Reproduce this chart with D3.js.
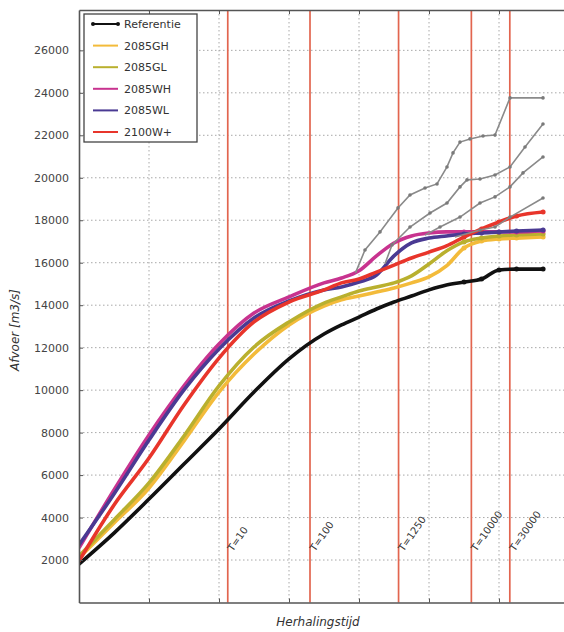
<!DOCTYPE html>
<html>
<head>
<meta charset="utf-8">
<script src="https://cdn.jsdelivr.net/npm/d3@7"></script>
<style>
    body{margin:0;background:#fff;}
    text{font-family:"DejaVu Sans",sans-serif;}
</style>
</head>
<body>
<svg id="chart" width="564" height="632"></svg>
<script>
// x = gumbel reduced variate of the return period
var uGrid = [-2,-1,0,1,2,3,4,5,5.5,6,6.5,7,7.5,8,8.5,9,9.5,10,10.5,11.26];

var referentie = [1810,3270,4870,6520,8170,9910,11470,12640,13070,13440,13820,14150,14430,14720,14950,15090,15230,15660,15700,15700];
var gh2085 = [2100,3740,5390,7610,9910,11700,13070,13960,14250,14430,14620,14810,15050,15330,15850,16690,17020,17120,17160,17210];
var gl2085 = [2190,3890,5630,7840,10200,12030,13210,14100,14390,14670,14860,15050,15380,15940,16550,16980,17160,17260,17310,17350];
var wh2085 = [2570,5300,7890,10200,12170,13630,14390,15050,15280,15620,16320,16930,17260,17400,17450,17450,17450,17450,17450,17490];
var wl2085 = [2710,5110,7650,10010,11940,13400,14200,14720,14860,15090,15420,16320,16930,17160,17260,17350,17400,17450,17490,17540];
var w2100 = [1950,4590,6800,9300,11510,13210,14150,14720,15050,15230,15560,15890,16220,16500,16790,17210,17590,17920,18200,18390];

var seriesNames = ['Referentie','2085GH','2085GL','2085WH','2085WL','2100W+'];
var seriesColors = ['#111111','#f3bb3a','#b9b02e','#c8338f','#4a3a93','#e8352b'];
var seriesValues = [referentie, gh2085, gl2085, wh2085, wl2085, w2100];

// grey tails (own x points)
var tail1U = [5.9,6.171,6.6,7.114,7.457,7.886,8.229,8.514,8.686,8.886,9.171,9.543,9.886,10.314,11.257];
var tail1V = [15520,16600,17450,18580,19190,19520,19710,20510,21170,21680,21830,21970,22010,23760,23760];
var tail2U = [6.743,6.943,7.457,8.029,8.514,8.886,9.086,9.457,9.886,10.314,10.743,11.257];
var tail2V = [15950,16840,17680,18340,18810,19570,19900,19940,20130,20510,21450,22530];
var tail3U = [7.886,8.314,8.886,9.457,9.886,10.314,10.686,11.257];
var tail3V = [17300,17680,18150,18810,19100,19570,20230,20980];
var tail4U = [8.743,9.457,9.886,10.314,11.257];
var tail4V = [17210,17540,17680,18150,19050];

var returnPeriods = [10,100,1250,10000,30000];
var yTicks = [2000,4000,6000,8000,10000,12000,14000,16000,18000,20000,22000,24000,26000];
var xTicks = [0,2,4,6,8,10];

var gumbel = T => -Math.log(-Math.log(1 - 1/T));

var svg = d3.select('#chart');

var x = d3.scaleLinear().domain([-2,12]).range([79,569]);
var y = d3.scaleLinear().domain([0,27900]).range([602.5,10]);

svg.append('clipPath').attr('id','plotClip')
    .append('rect')
    .attr('x',79).attr('y',10)
    .attr('width',490).attr('height',592.5);

//GRID
var grid = svg.append('g').attr('stroke','#a8a8a8').attr('stroke-dasharray','1.5,2.5').attr('stroke-width',1);
grid.selectAll('.hg').data(yTicks).join('line')
    .attr('x1',79).attr('x2',564)
    .attr('y1',d=>y(d)).attr('y2',d=>y(d));
grid.selectAll('.vg').data(xTicks).join('line')
    .attr('x1',d=>x(d)).attr('x2',d=>x(d))
    .attr('y1',10).attr('y2',602.5);

//RETURN PERIOD LINES
svg.append('g').selectAll('line').data(returnPeriods).join('line')
    .attr('x1',d=>x(gumbel(d))).attr('x2',d=>x(gumbel(d)))
    .attr('y1',10).attr('y2',602.5)
    .attr('stroke','#e2654f')
    .attr('stroke-width',1.7);

svg.append('g').selectAll('text').data(returnPeriods).join('text')
    .attr('transform',d=>`translate(${x(gumbel(d))+5},552) rotate(-55)`)
    .attr('font-size',10)
    .attr('fill','#333')
    .text(d=>'T='+d);

var plot = svg.append('g').attr('clip-path','url(#plotClip)');

var line = d3.line()
    .x(d=>x(d[0]))
    .y(d=>y(d[1]))
    .curve(d3.curveMonotoneX);

//MAIN CURVES
seriesValues.forEach((vals,i)=>{
    var pts = uGrid.map((u,j)=>[u, vals[j]]);
    plot.append('path')
        .datum(pts)
        .attr('d',line)
        .attr('fill','none')
        .attr('stroke',seriesColors[i])
        .attr('stroke-width',3.6)
        .attr('stroke-linejoin','round');
    plot.selectAll(null)
        .data(pts.filter(d=>d[0]>=9))
        .join('circle')
        .attr('cx',d=>x(d[0])).attr('cy',d=>y(d[1]))
        .attr('r',2.5)
        .attr('fill',seriesColors[i]);
});

//GREY TAILS
[[tail1U,tail1V],[tail2U,tail2V],[tail3U,tail3V],[tail4U,tail4V]].forEach(t=>{
    var pts = t[0].map((u,j)=>[u, t[1][j]]);
    plot.append('path')
        .datum(pts)
        .attr('d',d3.line().x(d=>x(d[0])).y(d=>y(d[1])))
        .attr('fill','none')
        .attr('stroke','#8a8a8a')
        .attr('stroke-width',1.6);
    plot.selectAll(null)
        .data(pts.slice(1))
        .join('circle')
        .attr('cx',d=>x(d[0])).attr('cy',d=>y(d[1]))
        .attr('r',1.8)
        .attr('fill','#7a7a7a');
});

//AXES
var yAxis = d3.axisLeft(y).tickValues(yTicks).tickFormat(d3.format('d'))
    .tickSizeInner(-4).tickSizeOuter(0).tickPadding(10);
var yG = svg.append('g').attr('transform','translate(79,0)').call(yAxis);
yG.selectAll('text').attr('font-size',11).attr('fill','#444').attr('font-family','DejaVu Sans');

var xAxis = d3.axisBottom(x).tickValues(xTicks).tickSizeInner(-4).tickSizeOuter(0).tickFormat('');
svg.append('g').attr('transform','translate(0,602.5)').call(xAxis);

var xTop = d3.axisTop(x).tickValues(xTicks).tickSizeInner(-4).tickSizeOuter(0).tickFormat('');
svg.append('g').attr('transform','translate(0,10)').call(xTop);

svg.selectAll('.domain').attr('stroke','#555').attr('stroke-width',1.6);
svg.selectAll('.tick line').attr('stroke','#555');

//AXIS LABELS
svg.append('text')
    .attr('transform','translate(19,330) rotate(-90)')
    .attr('text-anchor','middle')
    .attr('font-size',12)
    .attr('font-style','italic')
    .attr('fill','#333')
    .text('Afvoer [m3/s]');

svg.append('text')
    .attr('x',318).attr('y',626)
    .attr('text-anchor','middle')
    .attr('font-size',12)
    .attr('font-style','italic')
    .attr('fill','#333')
    .text('Herhalingstijd');

//LEGEND
var legend = svg.append('g');
legend.append('rect')
    .attr('x',84).attr('y',14)
    .attr('width',113).attr('height',128)
    .attr('fill','#fff')
    .attr('stroke','#444')
    .attr('stroke-width',1.3);

var items = legend.selectAll('g.item')
    .data(seriesNames)
    .join('g')
    .attr('transform',(d,i)=>`translate(0,${24 + i*21.6})`);

items.append('line')
    .attr('x1',93).attr('x2',118)
    .attr('stroke',(d,i)=>seriesColors[i])
    .attr('stroke-width',2);

items.filter((d,i)=>i==0)
    .selectAll('circle')
    .data([93,118])
    .join('circle')
    .attr('cx',d=>d).attr('cy',0).attr('r',2)
    .attr('fill','#111');

items.append('text')
    .attr('x',124).attr('y',4)
    .attr('font-size',11)
    .attr('fill','#333')
    .text(d=>d);
</script>
</body>
</html>
